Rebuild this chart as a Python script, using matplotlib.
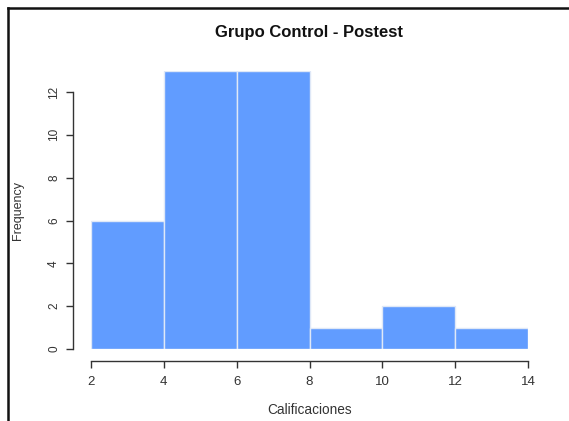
import matplotlib
matplotlib.use("Agg")
import matplotlib.pyplot as plt
from matplotlib.lines import Line2D

plt.rcParams['font.family'] = ['Liberation Sans', 'DejaVu Sans']

bin_edges = [2, 4, 6, 8, 10, 12, 14]
counts = [6, 13, 13, 1, 2, 1]
x_ticks = [2, 4, 6, 8, 10, 12, 14]
y_ticks = [0, 2, 4, 6, 8, 10, 12]
title = "Grupo Control - Postest"
xlabel = "Calificaciones"
ylabel = "Frequency"

W, H = 569, 421
PX = 72/100  # points per pixel
fig = plt.figure(figsize=(W/100, H/100), dpi=100)
left_px, right_px = 91, 528
bottom_px, top_px = 349, 70.6
ax = fig.add_axes([left_px/W, (H-bottom_px)/H, (right_px-left_px)/W, (bottom_px-top_px)/H])

widths = [bin_edges[i+1]-bin_edges[i] for i in range(len(counts))]
ax.bar(bin_edges[:-1], counts, width=widths, align='edge', color='#619CFF',
       edgecolor='#dfe8f7', linewidth=1.0)
ax.set_xlim(2, 14)
ax.set_ylim(0, 13)

for s in ['top', 'right']:
    ax.spines[s].set_visible(False)
ax.spines['left'].set_position(('outward', 18*PX))
ax.spines['bottom'].set_position(('outward', 12*PX))
ax.spines['left'].set_bounds(0, 12)
ax.spines['bottom'].set_bounds(2, 14)
for s in ['left', 'bottom']:
    ax.spines[s].set_color('#333333')
    ax.spines[s].set_linewidth(1.0)

ax.set_xticks(x_ticks)
ax.set_yticks(y_ticks)
ax.set_yticklabels([str(v) for v in y_ticks], rotation=90, va='center')
ax.tick_params(axis='both', length=7*PX, width=1.0, color='#333333',
               labelcolor='#333333')
ax.tick_params(axis='x', pad=8*PX, labelsize=9.5)
ax.tick_params(axis='y', pad=6*PX, labelsize=8.5)

fig.text(309/W, (H-33)/H, title, ha='center', va='center',
         fontsize=12, fontweight='bold', color='#111111')
fig.text(310/W, (H-410)/H, xlabel, ha='center', va='center',
         fontsize=9.8, color='#333333')
fig.text(18/W, (H-210)/H, ylabel, ha='center', va='center', rotation=90,
         fontsize=9, color='#333333')

fig.add_artist(Line2D([8/W, 1.0], [(H-8)/H, (H-8)/H], transform=fig.transFigure,
                      color='#111111', linewidth=1.8))
fig.add_artist(Line2D([8/W, 8/W], [0, (H-8)/H], transform=fig.transFigure,
                      color='#111111', linewidth=1.8))

fig.savefig('out.png', dpi=100)
